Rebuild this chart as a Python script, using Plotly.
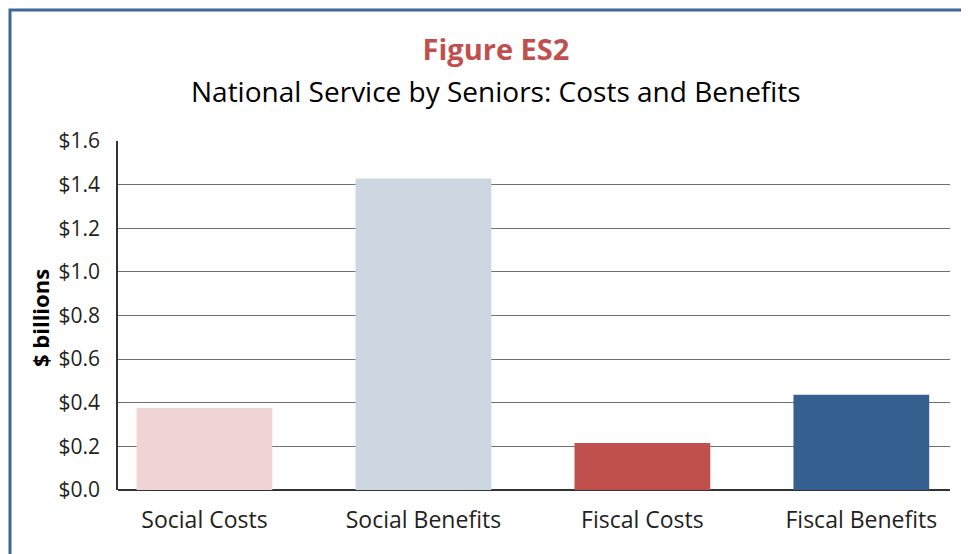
import plotly.graph_objects as go

categories = ["Social Costs", "Social Benefits", "Fiscal Costs", "Fiscal Benefits"]
values = [0.376, 1.428, 0.216, 0.437]
bar_colors = ["#efd3d5", "#cdd7e2", "#c0504d", "#355f8f"]
y_ticks = [0.0, 0.2, 0.4, 0.6, 0.8, 1.0, 1.2, 1.4, 1.6]
y_tick_labels = [f"${v:.1f}" for v in y_ticks]

# page is 969x554 but the html body has an 8px margin
OFF = 8
W, H = 969 - OFF, 554 - OFF
M = {"l": 118 - OFF, "r": 19, "t": 141 - OFF, "b": 64}
FONT = "Open Sans, sans-serif"
PW = W - M["l"] - M["r"]
PH = H - M["t"] - M["b"]


def px_x(x):
    # page pixel -> paper coordinate
    return (x - OFF - M["l"]) / PW


def px_y(y):
    return (H - M["b"] - (y - OFF)) / PH


fig = go.Figure(
    go.Bar(
        x=categories,
        y=values,
        marker={"color": bar_colors, "line": {"width": 0}},
        width=0.62,
    )
)

fig.update_layout(
    width=W,
    height=H,
    margin=M,
    paper_bgcolor="white",
    plot_bgcolor="white",
    showlegend=False,
    font={"family": FONT, "color": "#231f20", "size": 21},
    title={
        "text": "<b>Figure ES2</b>",
        "font": {"size": 29, "color": "#c0504d", "family": FONT},
        "xref": "container",
        "yref": "container",
        "x": (496 - OFF) / W,
        "y": 1 - (50 - OFF) / H,
        "xanchor": "center",
        "yanchor": "middle",
    },
    annotations=[
        {
            "text": "National Service by Seniors: Costs and Benefits",
            "xref": "paper",
            "yref": "paper",
            "x": px_x(496),
            "y": px_y(91),
            "showarrow": False,
            "xanchor": "center",
            "yanchor": "middle",
            "font": {"size": 28, "color": "#000000"},
        },
        {
            "text": "<b>$ billions</b>",
            "xref": "paper",
            "yref": "paper",
            "x": px_x(40),
            "y": px_y(318),
            "textangle": -90,
            "showarrow": False,
            "xanchor": "center",
            "yanchor": "middle",
            "font": {"size": 22, "color": "#000000"},
        },
    ],
    shapes=[
        {
            "type": "rect",
            "xref": "paper",
            "yref": "paper",
            "x0": px_x(10),
            "x1": px_x(1000),
            "y0": px_y(600),
            "y1": px_y(10),
            "line": {"color": "#3d6899", "width": 3},
            "layer": "below",
        }
    ],
)

fig.update_xaxes(
    range=[-0.395, 3.405],
    showgrid=False,
    showline=False,
    ticks="outside",
    ticklen=9,
    tickcolor="rgba(0,0,0,0)",
    tickfont={"size": 23},
)

fig.update_yaxes(
    range=[0, 1.6],
    tickvals=y_ticks,
    ticktext=y_tick_labels,
    showgrid=True,
    gridcolor="#6f6f6f",
    gridwidth=1.3,
    zeroline=True,
    zerolinecolor="#333333",
    zerolinewidth=1.6,
    showline=True,
    linecolor="#333333",
    linewidth=1.6,
    ticks="outside",
    ticklen=12,
    tickcolor="rgba(0,0,0,0)",
    tickfont={"size": 21},
)

fig.write_html("out.html")
